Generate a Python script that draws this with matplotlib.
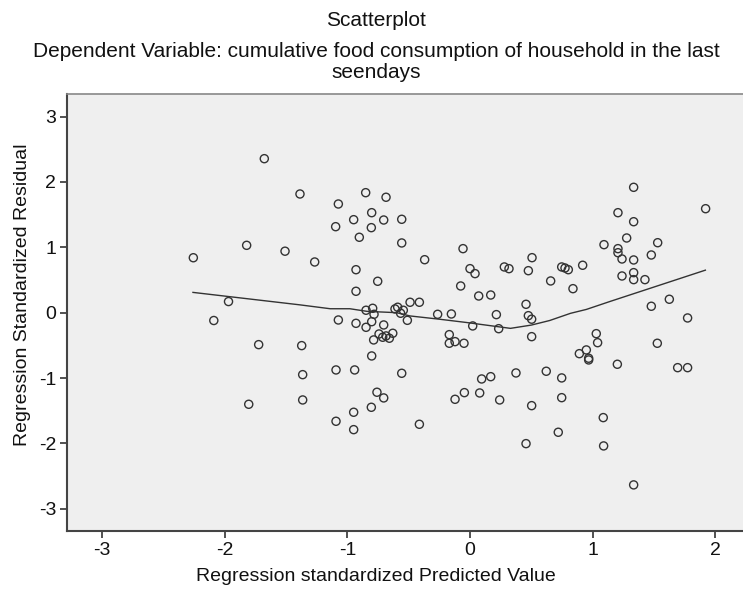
import matplotlib
matplotlib.use('Agg')
import matplotlib.pyplot as plt

plt.rcParams['font.family'] = ['Liberation Sans', 'DejaVu Sans']

# residual scatter
pred = [-1.678, -1.387, -1.822, -1.509, -2.257, -1.970, -2.090,
        -0.851, -0.685, -1.074, -0.802, -0.949, -0.704, -0.557, -1.096, -0.805,
        -0.903, -0.557, -0.057, -1.267, -0.370, -0.930, 0.000, 0.041, 0.280,
        0.318, -0.753, -0.076, -0.930, 0.071, 0.169, -0.489, -0.413, 0.215,
        -0.264, -0.152,
        1.335, 1.922, 1.207, 1.335, 1.278, 1.093, 1.531, 1.207, 1.207, 1.240,
        1.335, 1.479, 0.506, 0.919, 0.748, 0.775, 0.802, 0.476, 1.240, 1.335,
        1.335, 1.427, 0.658, 0.840, 1.626, 1.479, 0.457, 1.775, 0.476, 0.503,
        -0.848, -0.794, -0.783, -0.612, -0.590, -0.544, -0.566, -1.074, -0.930,
        -0.848, -0.802, -0.704, -0.511, -0.742, -0.712, -0.685, -0.658, -0.630,
        -0.786, -0.802, -0.169, -0.169, -0.122, -0.049, 0.022, 0.234, -1.373,
        -1.365, -1.365, -1.093, -0.941, -0.557, -0.759, -0.704, -0.805, -0.949,
        -1.093, -0.949, -0.413, 0.095, 0.169, -0.046, -0.122, 0.079, 0.242,
        0.375, -1.724, -1.805,
        0.503, 1.030, 1.041, 0.949, 0.892, 0.968, 0.968, 1.202, 1.528, 1.694,
        1.775, 0.622, 0.748, 0.748, 0.503, 1.087, 0.720, 0.457, 1.090, 1.335]
resid = [2.355, 1.815, 1.030, 0.940, 0.840, 0.170, -0.120,
         1.835, 1.765, 1.662, 1.529, 1.422, 1.417, 1.428, 1.315, 1.300,
         1.153, 1.066, 0.979, 0.775, 0.810, 0.657, 0.673, 0.597, 0.699,
         0.673, 0.480, 0.408, 0.327, 0.255, 0.270, 0.159, 0.159, -0.030,
         -0.025, -0.020,
         1.917, 1.590, 1.529, 1.391, 1.142, 1.040, 1.070, 0.979, 0.917, 0.821,
         0.806, 0.882, 0.841, 0.725, 0.699, 0.683, 0.657, 0.642, 0.561, 0.612,
         0.505, 0.505, 0.485, 0.367, 0.205, 0.098, 0.128, -0.081, -0.046, -0.100,
         0.037, 0.067, -0.025, 0.057, 0.083, 0.037, -0.009, -0.112, -0.163,
         -0.224, -0.138, -0.188, -0.117, -0.326, -0.376, -0.356, -0.391, -0.315,
         -0.417, -0.662, -0.336, -0.468, -0.443, -0.468, -0.203, -0.245, -0.504,
         -0.948, -1.335, -0.876, -0.876, -0.927, -1.217, -1.304, -1.447, -1.523,
         -1.661, -1.789, -1.707, -1.014, -0.979, -1.223, -1.325, -1.228, -1.335,
         -0.922, -0.489, -1.401,
         -0.367, -0.321, -0.459, -0.570, -0.627, -0.697, -0.723, -0.789, -0.468, -0.841,
         -0.841, -0.896, -0.998, -1.300, -1.422, -1.605, -1.829, -2.003, -2.038, -2.634]

# loess fit line vertices
fit_x = [-2.26, -1.39, -1.14, -0.98, -0.84, -0.60, -0.49, -0.25, -0.03,
         0.33, 0.50, 0.65, 0.82, 0.95, 1.14, 1.92]
fit_y = [0.31, 0.12, 0.06, 0.06, 0.02, 0.00, -0.05, -0.10, -0.15,
         -0.24, -0.19, -0.12, -0.01, 0.05, 0.17, 0.65]

xticks = [-3, -2, -1, 0, 1, 2]
yticks = [-3, -2, -1, 0, 1, 2, 3]

fig = plt.figure(figsize=(7.43, 5.92), dpi=100)
ax = fig.add_axes([0.0906, 0.1035, 0.9094, 0.7377])
ax.set_facecolor('#efefef')

ax.scatter(pred, resid, s=34, facecolors='none', edgecolors='#333333',
           linewidths=1.0, zorder=3)
ax.plot(fit_x, fit_y, color='#333333', linewidth=1.0, zorder=2)

ax.set_xlim(-3.285, 2.227)
ax.set_ylim(-3.335, 3.344)
ax.set_xticks(xticks)
ax.set_yticks(yticks)
ax.set_xticklabels([str(t) for t in xticks])
ax.set_yticklabels([str(t) for t in yticks])
ax.tick_params(direction='out', length=5, width=1.2, color='#333333',
               labelsize=14, labelcolor='#111111', pad=3)

for side in ['left', 'bottom']:
    ax.spines[side].set_color('#444444')
    ax.spines[side].set_linewidth(1.5)
ax.spines['top'].set_color('#888888')
ax.spines['top'].set_linewidth(1.2)
ax.spines['right'].set_visible(False)

ax.set_xlabel('Regression standardized Predicted Value', fontsize=14, color='#111111')
ax.xaxis.set_label_coords(0.457, -0.085)
fig.text(0.030, 1 - 295 / 592, 'Regression Standardized Residual', rotation=90,
         fontsize=14, color='#111111', ha='center', va='center')

fig.text(0.506, 1 - 20 / 592, 'Scatterplot', fontsize=15, color='#111111',
         ha='center', va='center')
fig.text(0.506, 1 - 62 / 592,
         'Dependent Variable: cumulative food consumption of household in the last\nseendays',
         fontsize=15, color='#111111', ha='center', va='center', linespacing=1.1)

fig.savefig('out.png', dpi=100)
